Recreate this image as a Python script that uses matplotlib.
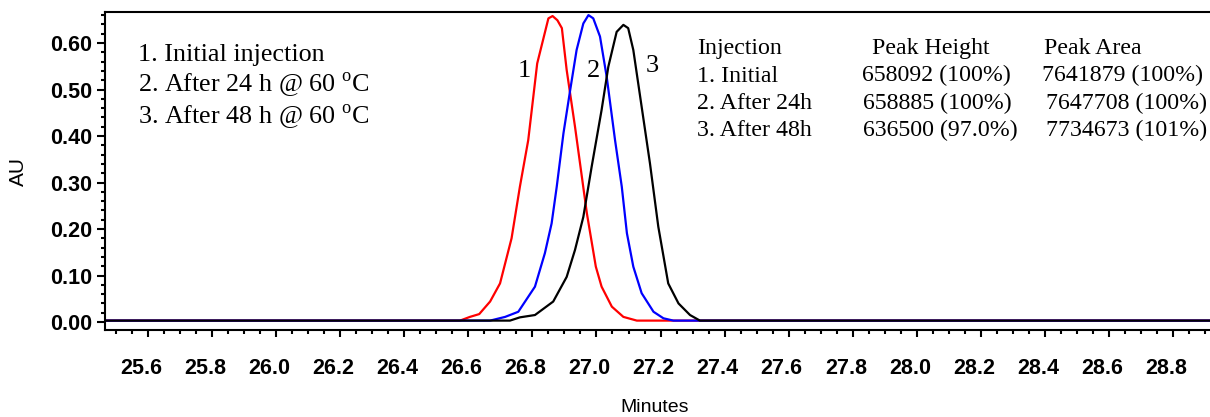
import matplotlib
matplotlib.use("Agg")
import matplotlib.pyplot as plt
import matplotlib.ticker as mticker
from matplotlib.transforms import ScaledTranslation

plt.rcParams["mathtext.fontset"] = "custom"
plt.rcParams["mathtext.rm"] = "Liberation Serif"

# ---------------------------------------------------------------------------
# Data
# ---------------------------------------------------------------------------
t_initial = [25.466, 26.574, 26.605, 26.634, 26.668, 26.699, 26.735, 26.761,
             26.787, 26.815, 26.850, 26.863, 26.878, 26.892, 26.907, 26.933,
             26.970, 26.998, 27.016, 27.048, 27.084, 27.126, 28.915]
au_initial = [0.003, 0.003, 0.011, 0.017, 0.044, 0.083, 0.180, 0.291,
              0.391, 0.556, 0.653, 0.658, 0.649, 0.632, 0.542, 0.420,
              0.234, 0.119, 0.076, 0.033, 0.011, 0.003, 0.003]

t_24h = [25.466, 26.668, 26.715, 26.756, 26.808, 26.839, 26.860, 26.876,
         26.897, 26.918, 26.938, 26.959, 26.975, 26.990, 27.011, 27.032,
         27.058, 27.079, 27.095, 27.115, 27.141, 27.178, 27.209, 27.240, 28.915]
au_24h = [0.003, 0.003, 0.011, 0.022, 0.076, 0.148, 0.212, 0.291,
          0.406, 0.499, 0.585, 0.642, 0.660, 0.653, 0.614, 0.527,
          0.391, 0.291, 0.191, 0.119, 0.062, 0.022, 0.008, 0.003, 0.003]

t_48h = [25.466, 26.730, 26.761, 26.808, 26.865, 26.907, 26.933, 26.959,
         26.985, 27.016, 27.037, 27.063, 27.084, 27.099, 27.115, 27.141,
         27.167, 27.193, 27.224, 27.256, 27.292, 27.323, 28.915]
au_48h = [0.003, 0.003, 0.010, 0.015, 0.044, 0.097, 0.155, 0.226,
          0.334, 0.456, 0.549, 0.624, 0.639, 0.632, 0.585, 0.463,
          0.341, 0.205, 0.083, 0.040, 0.015, 0.003, 0.003]

legend_lines = ["1. Initial injection",
                r"2. After 24 h @ 60 $^{\rm o}$C",
                r"3. After 48 h @ 60 $^{\rm o}$C"]

table_header = ["Injection", "Peak Height", "Peak Area"]
table_names = ["1. Initial", "2. After 24h", "3. After 48h"]
table_height = ["658092 (100%)", "658885 (100%)", "636500 (97.0%)"]
table_area = ["7641879 (100%)", "7647708 (100%)", "7734673 (101%)"]

# ---------------------------------------------------------------------------
# Figure
# ---------------------------------------------------------------------------
W, H = 1210, 417
fig = plt.figure(figsize=(W / 100, H / 100), dpi=100)
ax = fig.add_axes([105 / W, 1 - 330 / H, (W - 105) / W, (330 - 12) / H])

ax.plot(t_initial, au_initial, color="#FF0000", lw=1.6)
ax.plot(t_24h, au_24h, color="#0000FF", lw=1.6)
ax.plot(t_48h, au_48h, color="black", lw=1.6)

ax.set_xlim(25.466, 28.915)
ax.set_ylim(-0.0172, 0.6667)

ax.spines["right"].set_visible(False)
for s in ["left", "bottom", "top"]:
    ax.spines[s].set_linewidth(1.5)

ax.xaxis.set_major_locator(mticker.FixedLocator([25.6 + 0.2 * i for i in range(17)]))
ax.xaxis.set_major_formatter(mticker.FormatStrFormatter("%.1f"))
ax.xaxis.set_minor_locator(mticker.MultipleLocator(0.05))
ax.yaxis.set_major_locator(mticker.MultipleLocator(0.1))
ax.yaxis.set_major_formatter(mticker.FormatStrFormatter("%.2f"))
ax.yaxis.set_minor_locator(mticker.MultipleLocator(0.02))

ax.tick_params(axis="x", which="major", length=5, width=1.5, pad=15,
               labelsize=15.5)
ax.tick_params(axis="x", which="minor", length=3, width=1.5)
ax.tick_params(axis="y", which="major", length=5.5, width=1.5, pad=4,
               labelsize=15.5)
ax.tick_params(axis="y", which="minor", length=3, width=1.5)

for lab in ax.get_xticklabels() + ax.get_yticklabels():
    lab.set_fontfamily("Liberation Sans")
    lab.set_fontweight("bold")
shift = ScaledTranslation(-7 / 100, 0, fig.dpi_scale_trans)
for lab in ax.get_xticklabels():
    lab.set_transform(lab.get_transform() + shift)

fig.text(18 / W, 1 - 171 / H, "AU", rotation=90, ha="center", va="center",
         fontsize=15, family="Liberation Sans")
fig.text(655 / W, 1 - 408 / H, "Minutes", ha="center", va="center",
         fontsize=14, family="Liberation Sans")

# Legend text, upper left
for i, line in enumerate(legend_lines):
    fig.text(138 / W, 1 - (61 + 31.5 * i) / H, line, ha="left", va="baseline",
             fontsize=18.8, family="Liberation Serif")

# Peak labels
for txt, px, py in [("1", 524, 71), ("2", 593, 71), ("3", 652, 66)]:
    fig.text(px / W, 1 - py / H, txt, ha="center", va="center",
             fontsize=19, family="Liberation Serif")

# Results table, upper right
rows = [table_header] + [list(r) for r in zip(table_names, table_height, table_area)]
col_x = [[697, 872, 1044], [697, 862, 1042], [697, 863, 1046], [697, 863, 1046]]
for r, row in enumerate(rows):
    for c, cell in enumerate(row):
        fig.text(col_x[r][c] / W, 1 - (54 + 27.5 * r) / H, cell,
                 ha="left", va="baseline", fontsize=17.2,
                 family="Liberation Serif")

fig.savefig("out.png", dpi=100)
